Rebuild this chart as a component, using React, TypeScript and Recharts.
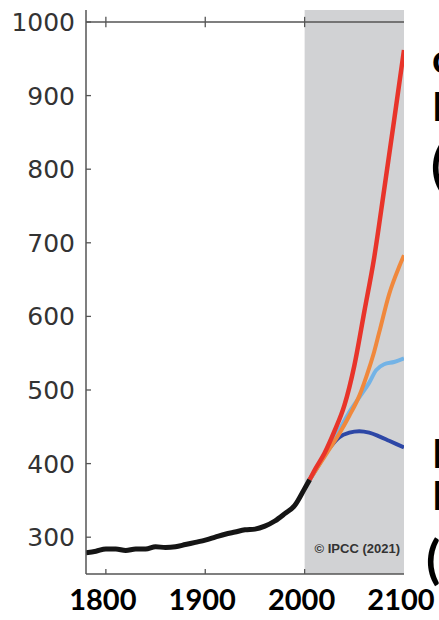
import { Line, LineChart, ReferenceArea, ReferenceLine, XAxis, YAxis } from "recharts";

// historical CO2 (ppm)
const histYears = [1780, 1790, 1800, 1810, 1820, 1830, 1840, 1850, 1860, 1870, 1880, 1890, 1900, 1910, 1920, 1930, 1940, 1950, 1960, 1970, 1980, 1990, 2000, 2005];
const histCo2 = [279, 281, 284, 284, 282, 284, 284, 287, 286, 287, 290, 293, 296, 300, 304, 307, 310, 311, 315, 322, 332, 343, 366, 378];

// scenarios
const veryHighYears = [2005, 2010, 2020, 2030, 2040, 2050, 2060, 2070, 2080, 2090, 2100];
const veryHighCo2 = [378, 391, 414, 444, 479, 533, 606, 680, 772, 866, 962];

const highYears = [2005, 2015, 2025, 2035, 2045, 2055, 2065, 2070, 2075, 2085, 2095, 2100];
const highCo2 = [378, 399, 420, 441, 465, 492, 530, 552, 578, 630, 667, 683];

const midYears = [2005, 2015, 2025, 2035, 2045, 2055, 2065, 2072, 2080, 2090, 2100];
const midCo2 = [378, 400, 423, 446, 470, 490, 510, 527, 535, 538, 543];

const lowYears = [2005, 2015, 2025, 2035, 2045, 2055, 2065, 2075, 2085, 2100];
const lowCo2 = [378, 400, 421, 436, 442, 444, 442, 437, 431, 422];

const yTicks = [300, 400, 500, 600, 700, 800, 900, 1000];
const xTicks = [1800, 1900, 2000, 2100];
const topTicks = [1800, 1900, 2000];

const toSeries = (years: number[], values: number[]) => years.map((year, i) => ({ year, co2: values[i] }));

const AXIS = "#555";

function YTick({ x, y, payload }: any) {
  return (
    <g>
      <line x1={x} y1={y} x2={x + 5} y2={y} stroke={AXIS} strokeWidth={1.3} />
      <text x={x - 11} y={y + 9} textAnchor="end" fontFamily="'DejaVu Sans', sans-serif" fontSize={25} fill="#333">
        {payload.value}
      </text>
    </g>
  );
}

function BottomTick({ x, y, payload }: any) {
  return (
    <g>
      {payload.value < 2100 && <line x1={x} y1={y} x2={x} y2={y - 5} stroke={AXIS} strokeWidth={1.3} />}
      <text x={x - 3} y={y + 36} textAnchor="middle" fontFamily="Lato, sans-serif" fontWeight={700} fontSize={29} fill="#000">
        {payload.value}
      </text>
    </g>
  );
}

function CopyrightLabel({ viewBox }: any) {
  return (
    <text
      x={viewBox.x + viewBox.width - 4}
      y={viewBox.y + viewBox.height - 21}
      textAnchor="end"
      fontFamily="'Liberation Sans', Arial, sans-serif"
      fontWeight={700}
      fontSize={13}
      fill="#333"
    >
      © IPCC (2021)
    </text>
  );
}

const sideText = { fontFamily: "Lato, sans-serif", fontWeight: 700, fill: "#000" };

export default function App() {
  return (
    <div style={{ position: "relative", width: 439, height: 620, overflow: "hidden", background: "#fff" }}>
      <style>{`body{margin:0;overflow:hidden}`}</style>
      <LineChart width={439} height={620} margin={{ top: 10, right: 35, bottom: 0, left: 0 }}>
        <ReferenceArea x1={2000} x2={2100} fill="#d1d2d4" fillOpacity={1} stroke="none" label={<CopyrightLabel />} />
        <ReferenceLine y={1000} stroke={AXIS} strokeWidth={1.5} />
        {topTicks.map((t) => (
          <ReferenceLine
            key={t}
            segment={[
              { x: t, y: 993 },
              { x: t, y: 1007 },
            ]}
            stroke={AXIS}
            strokeWidth={1.3}
          />
        ))}
        <XAxis
          dataKey="year"
          type="number"
          domain={[1780, 2100]}
          ticks={xTicks}
          allowDataOverflow
          height={46}
          tickSize={0}
          tickMargin={0}
          tickLine={false}
          axisLine={{ stroke: AXIS, strokeWidth: 1.5 }}
          tick={<BottomTick />}
          interval={0}
        />
        <YAxis
          type="number"
          domain={[250, 1016.3]}
          ticks={yTicks}
          allowDataOverflow
          width={86}
          tickSize={0}
          tickMargin={0}
          tickLine={false}
          axisLine={{ stroke: AXIS, strokeWidth: 1.5 }}
          tick={<YTick />}
          interval={0}
        />
        <Line data={toSeries(lowYears, lowCo2)} dataKey="co2" type="monotone" stroke="#2d47a6" strokeWidth={4} dot={false} isAnimationActive={false} />
        <Line data={toSeries(midYears, midCo2)} dataKey="co2" type="monotone" stroke="#73b3e6" strokeWidth={4} dot={false} isAnimationActive={false} />
        <Line data={toSeries(highYears, highCo2)} dataKey="co2" type="monotone" stroke="#f0883c" strokeWidth={4} dot={false} isAnimationActive={false} />
        <Line data={toSeries(veryHighYears, veryHighCo2)} dataKey="co2" type="monotone" stroke="#e8342a" strokeWidth={4.5} dot={false} isAnimationActive={false} />
        <Line data={toSeries(histYears, histCo2)} dataKey="co2" type="monotone" stroke="#151515" strokeWidth={5} dot={false} isAnimationActive={false} />
      </LineChart>
      <svg width={439} height={620} style={{ position: "absolute", left: 0, top: 0, pointerEvents: "none" }}>
        <text x={432} y={73} fontSize={40} {...sideText}>c</text>
        <text x={432} y={121} fontSize={40} {...sideText}>P</text>
        <text x={431} y={184} fontSize={52} {...sideText}>(</text>
        <text x={432} y={468} fontSize={40} {...sideText}>I</text>
        <text x={432} y={510} fontSize={40} {...sideText}>I</text>
        <text x={426} y={578} fontSize={52} {...sideText}>(</text>
      </svg>
    </div>
  );
}
